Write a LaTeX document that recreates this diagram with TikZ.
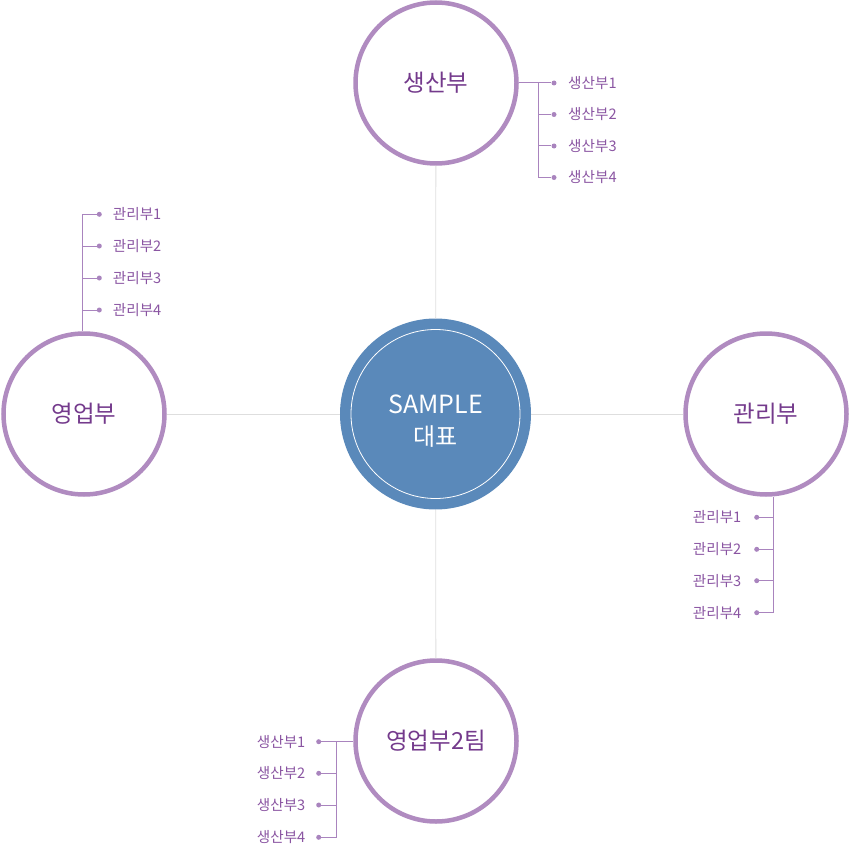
\documentclass[tikz,border=0pt]{standalone}
\usepackage{fontspec}
\setmainfont{Noto Sans CJK KR}
\definecolor{ringc}{HTML}{B08BC0}
\definecolor{labc}{HTML}{743A8C}
\definecolor{subc}{HTML}{8A55A2}
\definecolor{dotc}{HTML}{A984BE}
\definecolor{bluec}{HTML}{5A89BA}
\definecolor{grayc}{HTML}{DEDEDE}
\tikzset{
  dept/.style={circle, draw=ringc, line width=4.5pt, fill=white, inner sep=0pt, minimum size=161pt, text=labc, font=\fontsize{23.5}{27}\selectfont},
  conn/.style={draw=grayc, line width=0.8pt},
  branch/.style={draw=dotc, line width=1pt},
  dotn/.style={circle, fill=dotc, inner sep=0pt, minimum size=5pt},
  subl/.style={text=subc, inner sep=0pt, font=\fontsize{14.6}{17}\selectfont},
}
\begin{document}
\begin{tikzpicture}[x=1pt,y=-1pt]
\useasboundingbox (0,0) rectangle (851,848);
% center
\node[circle, fill=bluec, inner sep=0pt, minimum size=191pt] (ceo) at (435.5,414) {};
\node[circle, draw=white, line width=0.8pt, inner sep=0pt, minimum size=169pt] (ceoin) at (435.5,414) {};
\node[text=white, font=\fontsize{25}{29}\selectfont, inner sep=0pt] (t1) at (435.5,404) {SAMPLE};
\node[text=white, font=\fontsize{24}{28}\selectfont, inner sep=0pt] (t2) at (435.5,437) {대표};
% departments
\node[dept] (top) at (436,83) {생산부};
\node[dept] (left) at (84,414) {영업부};
\node[dept] (right) at (766,414) {관리부};
\node[dept] (bot) at (436,741) {영업부2팀};
% connectors
\draw[conn] (ceo) -- (top);
\draw[conn] (ceo) -- (left);
\draw[conn] (ceo) -- (right);
\draw[conn] (ceo) -- (bot);
% top list
\foreach \i/\y in {1/83,2/114.5,3/146,4/177.5}{
  \node[dotn] (td\i) at (554,\y) {};
  \node[subl, anchor=west] (tl\i) at (568,\y) {생산부\i};
}
\coordinate (ttrunk) at (538,83);
\draw[branch] (top.east |- td1) -- (td1);
\draw[branch] (ttrunk) -- (ttrunk |- td4) -- (td4);
\draw[branch] (ttrunk |- td2) -- (td2);
\draw[branch] (ttrunk |- td3) -- (td3);
% left list
\foreach \i/\y in {1/214.3,2/246,3/278,4/310}{
  \node[dotn] (ld\i) at (99.3,\y) {};
  \node[subl, anchor=west] (ll\i) at (112.7,\y) {관리부\i};
}
\coordinate (ltrunk) at (82.3,214.3);
\draw[branch] (ld1) -- (ltrunk) -- (ltrunk |- left.north);
\draw[branch] (ltrunk |- ld2) -- (ld2);
\draw[branch] (ltrunk |- ld3) -- (ld3);
\draw[branch] (ltrunk |- ld4) -- (ld4);
% right list
\foreach \i/\y in {1/517.3,2/549.3,3/580.7,4/612.7}{
  \node[dotn] (rd\i) at (756.7,\y) {};
  \node[subl, anchor=east] (rl\i) at (741.5,\y) {관리부\i};
}
\coordinate (rtrunk) at (773.3,612.7);
\draw[branch] (rd4) -- (rtrunk) -- (rtrunk |- right.south);
\draw[branch] (rtrunk |- rd1) -- (rd1);
\draw[branch] (rtrunk |- rd2) -- (rd2);
\draw[branch] (rtrunk |- rd3) -- (rd3);
% bottom list
\foreach \i/\y in {1/741.7,2/773.3,3/805,4/837.3}{
  \node[dotn] (bd\i) at (318.7,\y) {};
  \node[subl, anchor=east] (bl\i) at (305.5,\y) {생산부\i};
}
\coordinate (btrunk) at (336,837.3);
\draw[branch] (bd1) -- (bot.west |- bd1);
\draw[branch] (btrunk |- bd1) -- (btrunk) -- (bd4);
\draw[branch] (btrunk |- bd2) -- (bd2);
\draw[branch] (btrunk |- bd3) -- (bd3);
\end{tikzpicture}
\end{document}
